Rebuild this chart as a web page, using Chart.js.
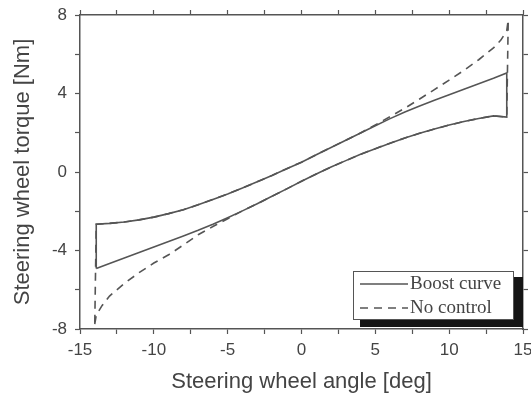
<!DOCTYPE html>
<html>
<head>
<meta charset="utf-8">
<script src="https://cdn.jsdelivr.net/npm/chart.js@4.4.0/dist/chart.umd.min.js"></script>
<style>
  body { margin: 0; background: #fff; }
  #wrap { width: 531px; height: 395px; }
</style>
</head>
<body>
<div id="wrap"><canvas id="torqueChart" width="531" height="395"></canvas></div>
<script>
// Boost curve: hysteresis loop, rising branch (left -> right) and falling branch
const boostAngle = [-13.9, -13, -12, -11, -10, -9, -8, -7, -6, -5, -4, -3, -2, -1, 0,
  1, 2, 3, 4, 5, 6, 7, 8, 9, 10, 11, 12, 13, 13.9];
const boostRising = [-4.92, -4.66, -4.38, -4.1, -3.82, -3.54, -3.26, -2.97, -2.66, -2.33, -1.98, -1.62, -1.24, -0.86, -0.47,
  -0.1, 0.25, 0.58, 0.9, 1.19, 1.47, 1.73, 1.97, 2.19, 2.39, 2.57, 2.73, 2.86, 2.8];
const boostFalling = [-2.66, -2.62, -2.55, -2.44, -2.3, -2.12, -1.92, -1.67, -1.4, -1.12, -0.82, -0.5, -0.18, 0.17, 0.5,
  0.88, 1.25, 1.62, 1.99, 2.36, 2.72, 3.06, 3.36, 3.65, 3.94, 4.22, 4.5, 4.78, 5.05];

// No control: same loop ends, but steeper near the end stops
const noCtrlRisingAngle = [-14.0, -13.9, -13.5, -13, -12, -11, -10, -9, -8, -7, -6, -5, -4, -3, -2, -1, 0,
  1, 2, 3, 4, 5, 6, 7, 8, 9, 10, 11, 12, 13, 13.9];
const noCtrlRising = [-7.75, -7.3, -6.8, -6.32, -5.68, -5.13, -4.64, -4.22, -3.72, -3.2, -2.78, -2.38, -1.98, -1.62, -1.24, -0.86, -0.47,
  -0.1, 0.25, 0.58, 0.9, 1.19, 1.47, 1.73, 1.97, 2.19, 2.39, 2.57, 2.73, 2.86, 2.8];
const noCtrlFallingAngle = [14.0, 13.9, 13.5, 13, 12, 11, 10, 9, 8, 7, 6, 5, 4, 3, 2, 1, 0,
  -1, -2, -3, -4, -5, -6, -7, -8, -9, -10, -11, -12, -13, -13.9];
const noCtrlFalling = [7.75, 7.2, 6.72, 6.32, 5.72, 5.18, 4.68, 4.2, 3.72, 3.25, 2.82, 2.4, 1.99, 1.62, 1.25, 0.88, 0.5,
  0.17, -0.18, -0.5, -0.82, -1.12, -1.4, -1.67, -1.92, -2.12, -2.3, -2.44, -2.55, -2.62, -2.66];

const xTicks = [-15, -10, -5, 0, 5, 10, 15];
const yTicks = [-8, -4, 0, 4, 8];

const lineColor = '#555';
const textColor = '#444';

function toPoints(xs, ys) {
  return xs.map((x, i) => ({ x: x, y: ys[i] }));
}

// rising branch, then back along the falling branch, closed at the start
const boostLoop = toPoints(boostAngle, boostRising)
  .concat(toPoints(boostAngle.slice().reverse(), boostFalling.slice().reverse()));
boostLoop.push(boostLoop[0]);

const noCtrlLoop = toPoints(noCtrlRisingAngle, noCtrlRising)
  .concat(toPoints(noCtrlFallingAngle, noCtrlFalling));
noCtrlLoop.push(noCtrlLoop[0]);

// legend box with a drop shadow in the lower right corner
const boxLegend = {
  id: 'boxLegend',
  afterDraw(chart) {
    const { ctx, chartArea } = chart;
    const w = 160, h = 48;
    const x = chartArea.right - 170, y = chartArea.bottom - 58;
    ctx.save();
    ctx.fillStyle = '#151515';
    ctx.fillRect(x + 7, y + 6, w + 3, h + 2);
    ctx.fillStyle = '#fff';
    ctx.fillRect(x, y, w, h);
    ctx.strokeStyle = lineColor;
    ctx.lineWidth = 1;
    ctx.strokeRect(x + 0.5, y + 0.5, w, h);
    chart.data.datasets.forEach((ds, i) => {
      const ly = y + 13 + i * 24;
      ctx.strokeStyle = ds.borderColor;
      ctx.lineWidth = ds.borderWidth;
      ctx.setLineDash(ds.borderDash || []);
      ctx.beginPath();
      ctx.moveTo(x + 7, ly);
      ctx.lineTo(x + 55, ly);
      ctx.stroke();
      ctx.setLineDash([]);
      ctx.fillStyle = textColor;
      ctx.font = '19px "Liberation Serif"';
      ctx.textBaseline = 'middle';
      ctx.fillText(ds.label, x + 57, ly);
    });
    ctx.restore();
  }
};

const tickFont = { family: 'Liberation Sans', size: 17 };
const titleFont = { family: 'Liberation Sans', size: 22 };

function frameAxis(extra) {
  return Object.assign({
    type: 'linear',
    grid: { drawOnChartArea: false, tickLength: 5, color: lineColor, tickWidth: 1.2 },
    border: { display: true, color: lineColor, width: 1.5 }
  }, extra);
}

// fixed box sizes so the plot frame sits where the labels expect it
function fixHeight(h) {
  return s => { s.height = h; s.paddingLeft = 0; s.paddingRight = 0; };
}
function fixWidth(w) {
  return s => { s.width = w; s.paddingTop = 0; s.paddingBottom = 0; };
}

new Chart(document.getElementById('torqueChart'), {
  type: 'scatter',
  data: {
    datasets: [
      {
        label: 'Boost curve',
        data: boostLoop,
        showLine: true,
        borderColor: lineColor,
        borderWidth: 1.6,
        pointRadius: 0,
        fill: false
      },
      {
        label: 'No control',
        data: noCtrlLoop,
        showLine: true,
        borderColor: lineColor,
        borderWidth: 1.6,
        borderDash: [8, 6],
        pointRadius: 0,
        fill: false
      }
    ]
  },
  options: {
    responsive: false,
    animation: false,
    devicePixelRatio: 1,
    layout: { padding: 0 },
    plugins: { legend: { display: false }, tooltip: { enabled: false } },
    scales: {
      x: frameAxis({
        position: 'bottom',
        min: -15, max: 15,
        ticks: {
          stepSize: 2.5, autoSkip: false, maxRotation: 0, padding: 6,
          color: textColor, font: tickFont,
          callback: v => xTicks.includes(v) ? String(v) : ''
        },
        title: { display: true, text: 'Steering wheel angle [deg]', color: textColor, font: titleFont, padding: { top: 0, bottom: 0 } },
        afterFit: fixHeight(66)
      }),
      y: frameAxis({
        position: 'left',
        min: -8, max: 8,
        ticks: {
          stepSize: 2, autoSkip: false, padding: 8,
          color: textColor, font: tickFont,
          callback: v => yTicks.includes(v) ? String(v) : ''
        },
        title: { display: true, text: 'Steering wheel torque [Nm]', color: textColor, font: titleFont, padding: { top: 10, bottom: 0 } },
        afterFit: fixWidth(80)
      }),
      xTop: frameAxis({
        position: 'top',
        min: -15, max: 15,
        ticks: { stepSize: 2.5, display: false },
        afterFit: fixHeight(15)
      }),
      yRight: frameAxis({
        position: 'right',
        min: -8, max: 8,
        ticks: { stepSize: 2, display: false },
        afterFit: fixWidth(8)
      })
    }
  },
  plugins: [boxLegend]
});
</script>
</body>
</html>
